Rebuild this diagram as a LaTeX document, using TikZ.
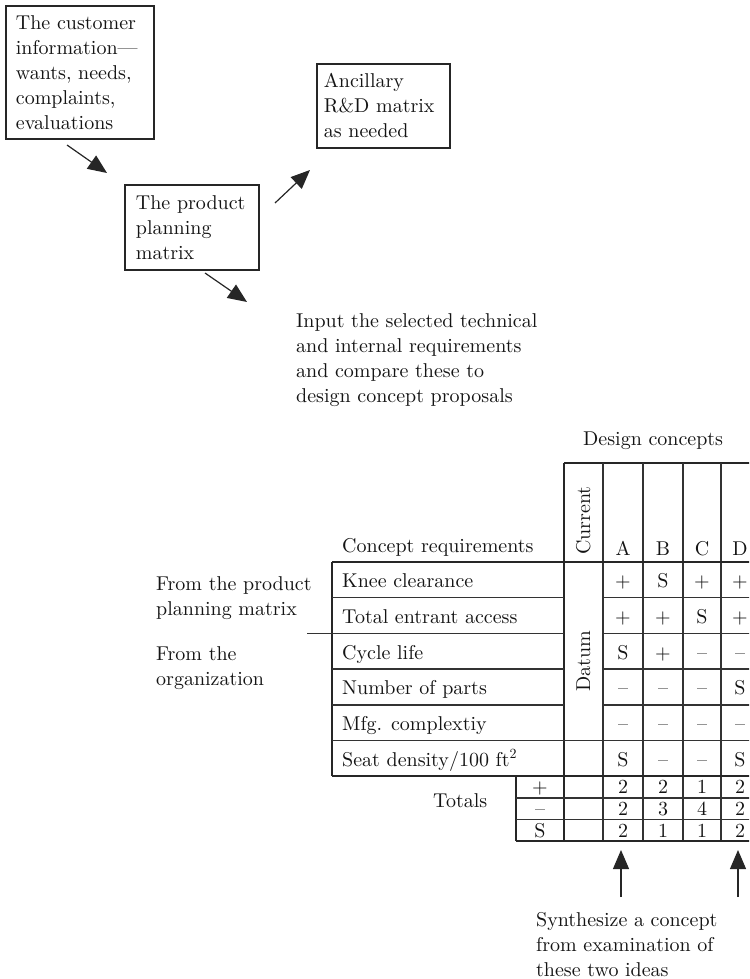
\documentclass[tikz,border=0pt]{standalone}
\usepackage{fontspec}
% one optical size at every size: the 10pt design is darker than the 17pt one
\setmainfont{lmroman10-regular.otf}
\usetikzlibrary{arrows.meta}
\begin{document}
\begin{tikzpicture}[x=1pt,y=-1pt,
  txt/.style={text=black!92, font=\fontsize{20}{25}\selectfont, inner sep=0pt},
  lbl/.style={txt, anchor=base west, align=left, text width=300pt},
  cell/.style={txt, anchor=base},
  tot/.style={text=black!92, font=\fontsize{20}{22}\selectfont, inner sep=0pt, anchor=base},
  infobox/.style={txt, draw=black!85, line width=1.8pt, anchor=north west, align=left},
  flow/.style={draw=black!85, line width=1.2pt, -{Triangle[length=19pt,width=16pt]}},
  rule/.style={draw=black!80, line width=1.4pt},
  frame/.style={draw=black!85, line width=1.9pt},
]
\useasboundingbox (0,0) rectangle (749,979);
\clip (0,0) rectangle (749,979);

% --- flow of information into the concept selection ---
\node[infobox, inner xsep=10pt, text width=128pt, minimum height=133pt] (cust) at (5,5)
  {The customer\\information---\\wants, needs,\\complaints,\\evaluations};
\node[infobox, inner xsep=11pt, text width=112pt, minimum height=85pt] (ppm) at (124,184)
  {The product\\planning\\matrix};
\node[infobox, inner xsep=7pt, text width=119pt, minimum height=84pt] (anc) at (316,63)
  {Ancillary\\R\&D matrix\\as needed};

\coordinate (f1s) at (67,145);  \coordinate (f1e) at (107,173);
\coordinate (f2s) at (275,203); \coordinate (f2e) at (310,170);
\coordinate (f3s) at (205,273); \coordinate (f3e) at (247,302);
\draw[flow] (f1s) -- (f1e);
\draw[flow] (f2s) -- (f2e);
\draw[flow] (f3s) -- (f3e);

\node[lbl] (input) at (296,327)
  {Input the selected technical\\and internal requirements\\and compare these to\\design concept proposals};

% --- concept selection matrix ---
\node[txt, anchor=base west] (dc) at (583,445) {Design concepts};
\node[txt, anchor=base west] (creq) at (342,552) {Concept requirements};
\node[txt, anchor=base west, rotate=90] (cur) at (590,555) {Current};
\node[txt, anchor=base west, rotate=90] (datum) at (590,692) {Datum};
\foreach \c/\x in {A/623,B/663,C/702,D/740}
  \node[cell] (h\c) at (\x,555) {\c};

% grid: header block
\draw[frame] (564,463) -- (760,463);
\foreach \x in {603,643,683,721}
  \draw[rule] (\x,463) -- (\x,841);
\draw[frame] (564,463) -- (564,841);
\draw[frame] (332,562) -- (760,562);
\draw[frame] (332,562) -- (332,776.2);
% requirement rows
\foreach \k in {1,...,5} {
  \pgfmathsetmacro\yy{562+35.7*\k}
  \draw[rule] (332,\yy) -- (564,\yy);
  \draw[rule] (603,\yy) -- (760,\yy);
}
\draw[rule] (307,633.4) -- (332,633.4);
\draw[rule] (564,740.5) -- (603,740.5);
\draw[frame] (332,776.2) -- (760,776.2);
% totals rows
\draw[frame] (516,776.2) -- (516,841);
\draw[rule] (516,797.8) -- (760,797.8);
\draw[rule] (516,819.4) -- (760,819.4);
\draw[frame] (516,841) -- (760,841);

\node[txt, anchor=base west] (r1) at (342,587.7) {Knee clearance};
\node[txt, anchor=base west] (r2) at (342,623.4) {Total entrant access};
\node[txt, anchor=base west] (r3) at (342,659.1) {Cycle life};
\node[txt, anchor=base west] (r4) at (342,694.8) {Number of parts};
\node[txt, anchor=base west] (r5) at (342,730.5) {Mfg. complextiy};
\node[txt, anchor=base west] (r6) at (342,766.2) {Seat density/100 ft\textsuperscript{2}};

\foreach \k/\a/\b/\c/\d in {1/+/S/+/+, 2/+/+/S/+, 3/S/+/–/–, 4/–/–/–/S, 5/–/–/–/–, 6/S/–/–/S} {
  \pgfmathsetmacro\yb{562+35.7*\k-10}
  \node[cell] (sa\k) at (623,\yb) {\a};
  \node[cell] (sb\k) at (663,\yb) {\b};
  \node[cell] (sc\k) at (702,\yb) {\c};
  \node[cell] (sd\k) at (740,\yb) {\d};
}

\node[lbl] (fromppm) at (156,590) {From the product\\planning matrix};
\node[lbl] (fromorg) at (156,660) {From the\\organization};

\node[txt, anchor=base west] (totals) at (433,807) {Totals};
\foreach \k/\s/\a/\b/\c/\d in {1/+/2/2/1/2, 2/–/2/3/4/2, 3/S/2/1/1/2} {
  \pgfmathsetmacro\yb{776.2+21.6*\k-4}
  \node[tot] (ts\k) at (540,\yb) {\s};
  \node[tot] (ta\k) at (623,\yb) {\a};
  \node[tot] (tb\k) at (663,\yb) {\b};
  \node[tot] (tc\k) at (702,\yb) {\c};
  \node[tot] (td\k) at (740,\yb) {\d};
}

% --- pointers to the two concepts worth combining ---
\coordinate (pAs) at (621,897); \coordinate (pAe) at (621,850);
\coordinate (pDs) at (738,897); \coordinate (pDe) at (738,850);
\draw[flow] (pAs) -- (pAe);
\draw[flow] (pDs) -- (pDe);

\node[lbl] (synth) at (536,926)
  {Synthesize a concept\\from examination of\\these two ideas};
\end{tikzpicture}
\end{document}
